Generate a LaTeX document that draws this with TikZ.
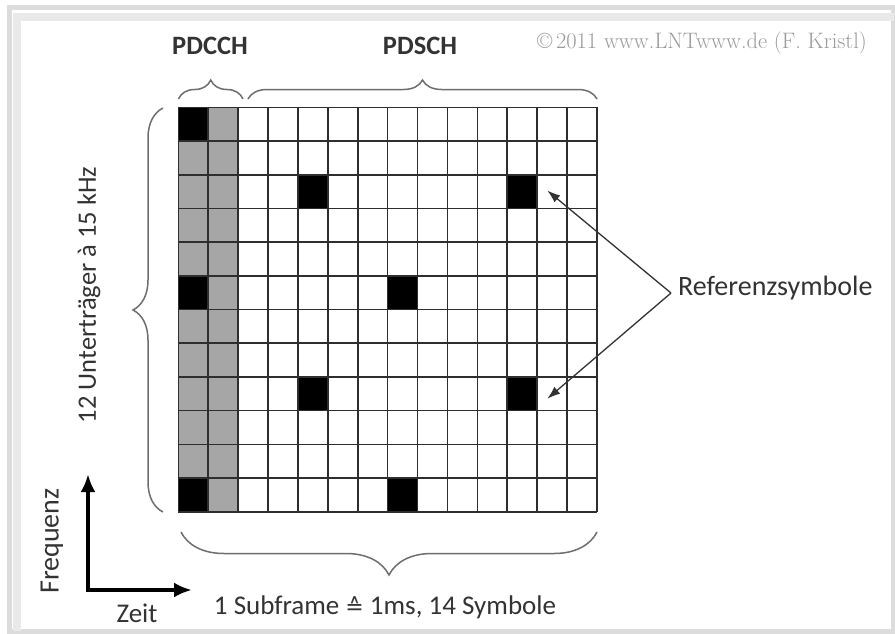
\documentclass[tikz,border=0pt]{standalone}
\usepackage{fontspec}
\usetikzlibrary{decorations.pathreplacing,arrows.meta}
\newfontfamily\calfont{Carlito}
\newfontfamily\dvsfont{DejaVu Sans}
\definecolor{txt}{HTML}{333333}
\definecolor{cellgray}{HTML}{A6A6A6}
\definecolor{gridc}{HTML}{2E2E2E}
\definecolor{bracec}{HTML}{6E6E6E}
\definecolor{framec}{HTML}{DCDCDC}
\definecolor{framei}{HTML}{E9E9E9}
\definecolor{copyc}{HTML}{9A9A9A}
\tikzset{
  lbl/.style={font=\calfont\fontsize{27}{30}\selectfont, text=txt, inner sep=0pt},
  hdr/.style={font=\calfont\bfseries\fontsize{26.5}{30}\selectfont, text=txt, inner sep=0pt},
  gline/.style={draw=gridc, line width=1.6pt},
  brc/.style={draw=bracec, line width=1.5pt, decorate, decoration={brace, amplitude=#1}},
  refarrow/.style={draw=txt, line width=1.3pt, -{Latex[length=13pt,width=9pt]}},
  axis/.style={draw=black, line width=4pt, -{Latex[length=18pt,width=15pt]}},
  blk/.style={fill=black, draw=none, minimum width=29.9pt, minimum height=33.7pt, inner sep=0pt}
}
\begin{document}
\begin{tikzpicture}[x=1pt,y=-1pt]
\useasboundingbox (0,0) rectangle (895,633);
% frame
\fill[white] (0,0) rectangle (895,633);
\draw[framec, line width=5pt] (9.5,7.5) rectangle (893.5,631);
\draw[framei, line width=8pt] (17,631) -- (17,17) -- (893.5,17);
% grid parameters
\def\gx{178.3}\def\gy{107.3}\def\cw{29.9}\def\rh{33.7}
% gray PDCCH cells
\fill[cellgray] (\gx,\gy) rectangle ({\gx+2*\cw},{\gy+12*\rh});
% black cells as nodes
\foreach \name/\r/\c in {b1/0/0, b2/5/0, b3/11/0, r1/2/4, r2/2/11, r3/5/7, r4/8/4, r5/8/11, r6/11/7}{
  \node[blk] (\name) at ({\gx+(\c+0.5)*\cw},{\gy+(\r+0.5)*\rh}) {};
}
% grid lines
\foreach \i in {0,...,14}{
  \draw[gline] ({\gx+\i*\cw},\gy) -- ({\gx+\i*\cw},{\gy+12*\rh});
}
\foreach \j in {0,...,12}{
  \draw[gline] (\gx,{\gy+\j*\rh}) -- ({\gx+14*\cw},{\gy+\j*\rh});
}
% braces
\draw[brc=19pt] (178.5,99) -- (243,99);
\draw[brc=19pt] (248,99) -- (597,99);
\draw[brc=30pt] (163,512) -- (163,108);
\draw[brc=43pt] (597,532) -- (181,532);
% headers
\node[hdr] (pdcch) at (210,46) {PDCCH};
\node[hdr] (pdsch) at (420,46) {PDSCH};
\node[text=copyc, inner sep=0pt, font=\fontsize{22.4}{25}\selectfont] (copy) at (702,43) {\textcopyright\,2011 www.LNTwww.de (F. Kristl)};
% left label
\node[lbl, rotate=90, font=\calfont\fontsize{26.5}{30}\selectfont] (sub) at (89,295) {12 Unterträger à 15 kHz};
% bottom label
\node[lbl] (subf) at (385,607) {1 Subframe {\dvsfont\fontsize{22}{26}\selectfont ≙} 1ms, 14 Symbole};
% reference symbols
\node[lbl, anchor=west, font=\calfont\fontsize{28}{30}\selectfont] (ref) at (678,288) {Referenzsymbole};
\coordinate (v) at (671,293);
\draw[refarrow] (v) -- ([xshift=10pt,yshift=1pt]r2.east);
\draw[refarrow] (v) -- ([xshift=10pt,yshift=-5pt]r5.east);
% axes
\coordinate (o) at (88,590);
\coordinate (fy) at (88,474);
\coordinate (fx) at (192,590);
\draw[axis] ([yshift=2pt]o) -- (fy);
\draw[axis] ([xshift=-2pt]o) -- (fx);
\node[lbl, rotate=90, font=\calfont\fontsize{28}{30}\selectfont] (freq) at (52,541) {Frequenz};
\node[lbl] (zeit) at (137,613) {Zeit};
\end{tikzpicture}
\end{document}
